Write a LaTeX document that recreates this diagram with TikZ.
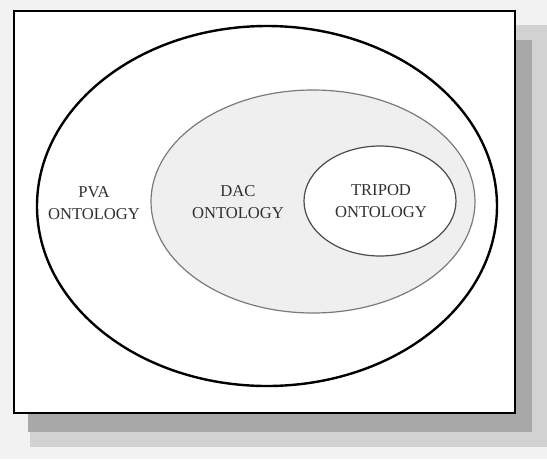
\documentclass[tikz,border=0pt]{standalone}
\usepackage{fontspec}
\setmainfont{Liberation Serif}
\usetikzlibrary{shapes.geometric}
\definecolor{pagebg}{HTML}{F2F2F2}
\definecolor{shadowlight}{HTML}{D2D2D2}
\definecolor{shadowdark}{HTML}{A8A8A8}
\definecolor{dacfill}{HTML}{EFEFEF}
\definecolor{dacline}{HTML}{7A7A7A}
\definecolor{labelgray}{HTML}{303030}
\begin{document}
\begin{tikzpicture}[x=1pt,y=-1pt,
  oval/.style={ellipse, inner sep=0pt},
  lbl/.style={text=labelgray, align=center, font=\fontsize{16.6}{22}\selectfont, inner sep=0pt}]
  % page and drop shadow
  \fill[pagebg] (0,0) rectangle (547,459);
  \useasboundingbox (0,0) rectangle (547,459);
  \fill[shadowlight] (30,25) rectangle (547,447);
  \fill[shadowdark] (28,40) rectangle (532,432);
  % frame
  \node[draw=black, line width=2pt, fill=white, minimum width=501pt, minimum height=402pt,
        inner sep=0pt, anchor=north west] (frame) at (13,10) {};
  % nested ontologies
  \node[oval, draw=black, line width=2.4pt, minimum width=460pt, minimum height=360pt] (pva) at (267,206) {};
  \node[oval, draw=dacline, fill=dacfill, line width=1.2pt, minimum width=324pt, minimum height=223pt] (dac) at (313,201.5) {};
  \node[oval, draw=black!70, fill=white, line width=1.2pt, minimum width=152pt, minimum height=110pt] (tripod) at (380,201) {};
  % labels
  \node[lbl] (pvalbl) at (94,203) {PVA\\ONTOLOGY};
  \node[lbl] (daclbl) at (238,202) {DAC\\ONTOLOGY};
  \node[lbl] (tripodlbl) at (381,201) {TRIPOD\\ONTOLOGY};
\end{tikzpicture}
\end{document}
